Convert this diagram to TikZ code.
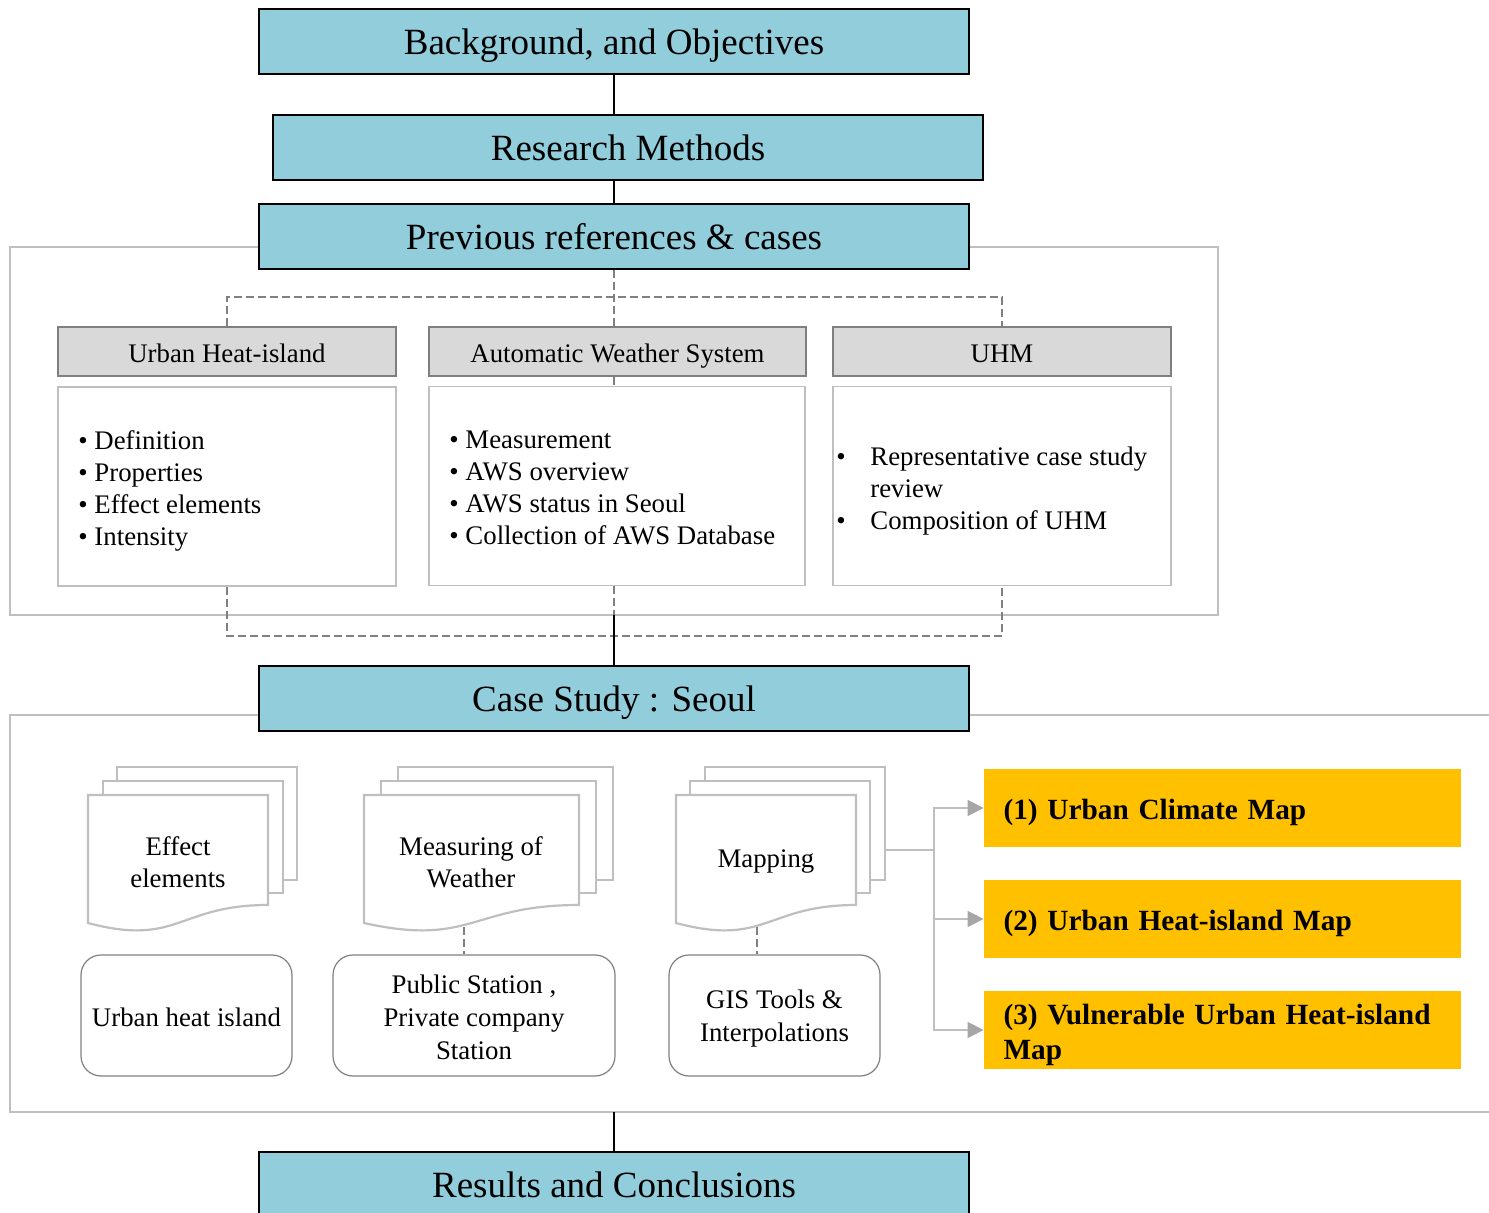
\documentclass[tikz,border=0pt]{standalone}
\usepackage{fontspec}
\setmainfont{Liberation Serif}
\usetikzlibrary{arrows.meta}
\definecolor{blueF}{HTML}{92CDDC}
\definecolor{hdrF}{HTML}{D9D9D9}
\definecolor{hdrD}{HTML}{7F7F7F}
\definecolor{lightD}{HTML}{BFBFBF}
\definecolor{dashD}{HTML}{808080}
\definecolor{orangeF}{HTML}{FFC000}
\definecolor{arrD}{HTML}{A6A6A6}
\newcommand{\mydocs}[4]{%
  \filldraw[docst] (#1+#4,767) rectangle (#1+#4+#2,880);
  \filldraw[docst] (#1+#3,781) rectangle (#1+#3+#2,893);
  \filldraw[docst] (#1,795) -- (#1+#2,795) -- (#1+#2,905) .. controls (#1+#2/2,905) and (#1+#2/2,947) .. (#1,923) -- cycle;
}
\begin{document}
\begin{tikzpicture}[x=0.5pt,y=-0.5pt,
  bluebox/.style={draw=black, line width=0.75pt, fill=blueF, minimum width=355pt, minimum height=32.5pt, inner sep=0pt, text height=13pt, text depth=0pt, font=\fontsize{18.5}{22}\selectfont},
  hdrbox/.style={draw=hdrD, fill=hdrF, line width=0.6pt, minimum height=24.5pt, inner sep=0pt, text height=11.2pt, text depth=0pt, font=\fontsize{13.4}{16}\selectfont},
  bodybox/.style={draw=lightD, line width=0.6pt, fill=white, minimum height=99.5pt, inner sep=0pt},
  bodytext/.style={inner sep=0pt, align=left, anchor=west, font=\fontsize{13.4}{16}\selectfont},
  frame/.style={draw=lightD, line width=0.75pt},
  dsh/.style={draw=dashD, line width=1pt, dash pattern=on 4pt off 2pt},
  blk/.style={draw=black, line width=1pt},
  docst/.style={draw=lightD, fill=white, line width=1.1pt},
  doctext/.style={inner sep=0pt, align=center, font=\fontsize{13.4}{16}\selectfont},
  rbox/.style={draw=hdrD, line width=0.6pt, rounded corners=10pt, minimum height=60.5pt, inner sep=0pt, align=center, font=\fontsize{13.4}{16.7}\selectfont},
  obox/.style={fill=orangeF, minimum width=238.5pt, minimum height=39pt, inner xsep=9.75pt, inner ysep=0pt, text width=219pt, align=left, font=\fontsize{14.65}{17.5}\selectfont\bfseries},
  osingle/.style={text height=11.9pt, text depth=0pt},
  conn/.style={draw=lightD, line width=0.75pt},
  arr/.style={draw=lightD, line width=0.75pt, -{Triangle[length=8pt,width=8pt,color=arrD]}}
]
\path[use as bounding box, clip] (0,0) rectangle (1489,1213);

% containers
\draw[frame] (10,247) rectangle (1218,615);
\draw[frame] (10,715) rectangle (1500,1112);

% blue boxes
\node[bluebox] (bg) at (614,41.5) {Background, and Objectives};
\node[bluebox] (rm) at (628,147.5) {Research Methods};
\node[bluebox] (prev) at (614,236.5) {Previous references \& cases};
\node[bluebox] (cs) at (614,698.5) {Case Study : Seoul};
\node[bluebox] (res) at (614,1184.5) {Results and Conclusions};

% headers and bodies
\node[hdrbox, minimum width=169pt] (hUHI) at (227,351.5) {Urban Heat-island};
\node[hdrbox, minimum width=188.5pt] (hAWS) at (617.5,351.5) {Automatic Weather System};
\node[hdrbox, minimum width=169pt] (hUHM) at (1002,351.5) {UHM};
\node[bodybox, minimum width=169pt] (bUHI) at (227,486.5) {};
\node[bodybox, minimum width=188pt] (bAWS) at (617,486) {};
\node[bodybox, minimum width=169pt] (bUHM) at (1002,486) {};
\node[bodytext] (tUHI) at (78,491) {• Definition\\• Properties\\• Effect elements\\• Intensity};
\node[bodytext] (tAWS) at (449,488) {• Measurement\\• AWS overview\\• AWS status in Seoul\\• Collection of AWS Database};
\node[bodytext] (tUHM) at (836,491) {\makebox[17pt][l]{•}Representative case study\\\hspace*{17pt}review\\\makebox[17pt][l]{•}Composition of UHM};

% coordinates
\coordinate (tb) at (614,297);
\coordinate (bb) at (614,636);
\coordinate (c1b) at (614,615);
\coordinate (c2b) at (614,1112);

% dashed bracket connectors
\draw[dsh] (hUHI.north) |- (tb) -| (hUHM.north);
\draw[dsh] (prev.south) -- (prev.south |- hAWS.north);
\draw[dsh] (prev.south |- hAWS.south) -- (prev.south |- bAWS.north);
\draw[dsh] (prev.south |- bAWS.south) -- (c1b);
\draw[dsh] (bUHI.south) |- (bb) -| (bUHM.south);

% black connectors
\draw[blk] (bg.south) -- (bg.south |- rm.north);
\draw[blk] (prev.north |- rm.south) -- (prev.north);
\draw[blk] (c1b) -- (cs.north);
\draw[blk] (c2b) -- (res.north);

% document stacks
\mydocs{88}{180}{15}{29}
\mydocs{364}{215}{17}{34}
\mydocs{676}{180}{14}{29}
\node[doctext] (tE) at (178,862) {Effect\\elements};
\node[doctext] (tM) at (471,862) {Measuring of\\Weather};
\node[doctext] (tMap) at (766,862) {Mapping};

% rounded boxes
\node[rbox, minimum width=105.5pt] (rUHI) at (186.5,1015.5) {\rule{0pt}{11.2pt}Urban heat island};
\node[rbox, minimum width=141pt] (rPub) at (474,1015.5) {\rule{0pt}{11.2pt}Public Station ,\\Private company\\Station};
\node[rbox, minimum width=105.5pt] (rGIS) at (774.5,1015.5) {\rule{0pt}{12.2pt}GIS Tools \&\\Interpolations};

\coordinate (dM) at (464,927);
\coordinate (dG) at (757,927);
\draw[dsh] (dM) -- (dM |- rPub.north);
\draw[dsh] (dG) -- (dG |- rGIS.north);

% orange boxes
\node[obox, osingle] (o1) at (1222.5,808) {(1) Urban Climate Map};
\node[obox, osingle] (o2) at (1222.5,919) {(2) Urban Heat-island Map};
\node[obox] (o3) at (1222.5,1030) {\rule{0pt}{15pt}(3) Vulnerable Urban Heat-island\\Map};

% mapping connectors
\coordinate (mapR) at (886,850);
\coordinate (jn) at (934,850);
\draw[conn, line width=1.2pt] (mapR) -- (jn);
\draw[arr] (jn) |- (o1.west);
\draw[arr] (jn) |- (o2.west);
\draw[arr] (jn) |- (o3.west);
\end{tikzpicture}
\end{document}
